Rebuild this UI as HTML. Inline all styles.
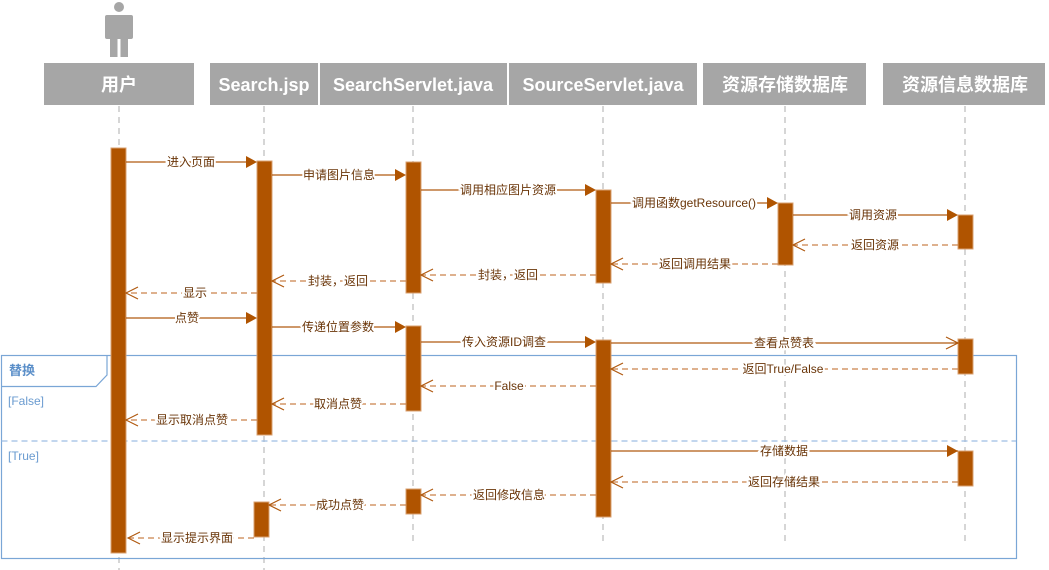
<!DOCTYPE html>
<html><head><meta charset="utf-8"><style>
body{margin:0;background:#fff}
svg{display:block}
text{font-family:"Liberation Sans","Noto Sans CJK SC",sans-serif}
.lb{font-size:12px;fill:#6a3508;text-anchor:middle;paint-order:stroke;stroke:#fff;stroke-width:4px}
.hd{font-size:18px;font-weight:bold;fill:#fff;text-anchor:middle}
.s{stroke:#b05a10;stroke-width:1.2;fill:none}
.d{stroke:#c9824a;stroke-width:1.2;fill:none;stroke-dasharray:6 4}
.ll{stroke:#bbb;stroke-width:1.2;stroke-dasharray:6 5}
.act{fill:#b05400;stroke:#d9a070;stroke-width:1}
.fa{fill:#b05400}
</style></head><body>
<svg width="1049" height="570" xmlns="http://www.w3.org/2000/svg">
<circle cx="119" cy="7" r="5" fill="#a6a6a6"/>
<rect x="105" y="15" width="28" height="24" rx="2" fill="#a6a6a6"/>
<rect x="110" y="30" width="7.5" height="27" fill="#a6a6a6"/>
<rect x="120.5" y="30" width="7.5" height="27" fill="#a6a6a6"/>
<rect x="44" y="63" width="150" height="42" fill="#a6a6a6"/>
<rect x="210" y="63" width="108" height="42" fill="#a6a6a6"/>
<rect x="320" y="63" width="187" height="42" fill="#a6a6a6"/>
<rect x="509" y="63" width="188" height="42" fill="#a6a6a6"/>
<rect x="703" y="63" width="163" height="42" fill="#a6a6a6"/>
<rect x="883" y="63" width="162" height="42" fill="#a6a6a6"/>
<text class="hd" x="119" y="91">用户</text>
<text class="hd" x="264" y="91">Search.jsp</text>
<text class="hd" x="413" y="91">SearchServlet.java</text>
<text class="hd" x="603" y="91">SourceServlet.java</text>
<text class="hd" x="785" y="91">资源存储数据库</text>
<text class="hd" x="965" y="91">资源信息数据库</text>
<line class="ll" x1="119" y1="106" x2="119" y2="570"/>
<line class="ll" x1="264" y1="106" x2="264" y2="570"/>
<line class="ll" x1="413" y1="106" x2="413" y2="545"/>
<line class="ll" x1="603" y1="106" x2="603" y2="545"/>
<line class="ll" x1="785" y1="106" x2="785" y2="545"/>
<line class="ll" x1="965" y1="106" x2="965" y2="545"/>
<rect x="1.5" y="355.5" width="1015" height="203" fill="none" stroke="#7aa6d6" stroke-width="1.2"/>
<path d="M1.5 386.5 H96 L107 375 V355.5" fill="none" stroke="#7aa6d6" stroke-width="1.2"/>
<text x="9" y="375" font-size="13" font-weight="bold" fill="#5b8fc9">替换</text>
<text x="8" y="405" font-size="12" fill="#6a9bd0">[False]</text>
<line x1="1.5" y1="441" x2="1016" y2="441" stroke="#9dbde3" stroke-width="1.2" stroke-dasharray="6 4"/>
<text x="8" y="460" font-size="12" fill="#6a9bd0">[True]</text>
<rect class="act" x="111" y="148" width="15" height="405"/>
<rect class="act" x="257" y="161" width="15" height="274"/>
<rect class="act" x="254" y="502" width="15" height="35"/>
<rect class="act" x="406" y="162" width="15" height="131"/>
<rect class="act" x="406" y="326" width="15" height="85"/>
<rect class="act" x="406" y="489" width="15" height="25"/>
<rect class="act" x="596" y="190" width="15" height="93"/>
<rect class="act" x="596" y="340" width="15" height="177"/>
<rect class="act" x="778" y="203" width="15" height="62"/>
<rect class="act" x="958" y="215" width="15" height="34"/>
<rect class="act" x="958" y="339" width="15" height="35"/>
<rect class="act" x="958" y="451" width="15" height="35"/>
<line class="s" x1="126" y1="162" x2="246" y2="162"/><path class="fa" d="M246 156 L257 162 L246 168Z"/><text class="lb" x="191" y="166">进入页面</text>
<line class="s" x1="272" y1="175" x2="395" y2="175"/><path class="fa" d="M395 169 L406 175 L395 181Z"/><text class="lb" x="339" y="179">申请图片信息</text>
<line class="s" x1="421" y1="190" x2="585" y2="190"/><path class="fa" d="M585 184 L596 190 L585 196Z"/><text class="lb" x="508" y="194">调用相应图片资源</text>
<line class="s" x1="611" y1="203" x2="767" y2="203"/><path class="fa" d="M767 197 L778 203 L767 209Z"/><text class="lb" x="694" y="207">调用函数getResource()</text>
<line class="s" x1="793" y1="215" x2="947" y2="215"/><path class="fa" d="M947 209 L958 215 L947 221Z"/><text class="lb" x="873" y="219">调用资源</text>
<line class="s" x1="126" y1="318" x2="246" y2="318"/><path class="fa" d="M246 312 L257 318 L246 324Z"/><text class="lb" x="187" y="322">点赞</text>
<line class="s" x1="272" y1="327" x2="395" y2="327"/><path class="fa" d="M395 321 L406 327 L395 333Z"/><text class="lb" x="338" y="331">传递位置参数</text>
<line class="s" x1="421" y1="342" x2="585" y2="342"/><path class="fa" d="M585 336 L596 342 L585 348Z"/><text class="lb" x="504" y="346">传入资源ID调查</text>
<line class="s" x1="611" y1="343" x2="958" y2="343"/><path class="s" d="M946 337 L958 343 L946 349"/><text class="lb" x="784" y="347">查看点赞表</text>
<line class="s" x1="611" y1="451" x2="958" y2="451"/><path class="fa" d="M947 445 L958 451 L947 457Z"/><text class="lb" x="784" y="455">存储数据</text>
<line class="d" x1="958" y1="245" x2="793" y2="245"/><path class="s" d="M805 239 L793 245 L805 251"/><text class="lb" x="875" y="249">返回资源</text>
<line class="d" x1="778" y1="264" x2="611" y2="264"/><path class="s" d="M623 258 L611 264 L623 270"/><text class="lb" x="695" y="268">返回调用结果</text>
<line class="d" x1="596" y1="275" x2="421" y2="275"/><path class="s" d="M433 269 L421 275 L433 281"/><text class="lb" x="508" y="279">封装，返回</text>
<line class="d" x1="406" y1="281" x2="272" y2="281"/><path class="s" d="M284 275 L272 281 L284 287"/><text class="lb" x="338" y="285">封装，返回</text>
<line class="d" x1="257" y1="293" x2="126" y2="293"/><path class="s" d="M138 287 L126 293 L138 299"/><text class="lb" x="195" y="297">显示</text>
<line class="d" x1="958" y1="369" x2="611" y2="369"/><path class="s" d="M623 363 L611 369 L623 375"/><text class="lb" x="783" y="373">返回True/False</text>
<line class="d" x1="596" y1="386" x2="421" y2="386"/><path class="s" d="M433 380 L421 386 L433 392"/><text class="lb" x="509" y="390">False</text>
<line class="d" x1="406" y1="404" x2="272" y2="404"/><path class="s" d="M284 398 L272 404 L284 410"/><text class="lb" x="338" y="408">取消点赞</text>
<line class="d" x1="257" y1="420" x2="126" y2="420"/><path class="s" d="M138 414 L126 420 L138 426"/><text class="lb" x="192" y="424">显示取消点赞</text>
<line class="d" x1="958" y1="482" x2="611" y2="482"/><path class="s" d="M623 476 L611 482 L623 488"/><text class="lb" x="784" y="486">返回存储结果</text>
<line class="d" x1="596" y1="495" x2="421" y2="495"/><path class="s" d="M433 489 L421 495 L433 501"/><text class="lb" x="509" y="499">返回修改信息</text>
<line class="d" x1="406" y1="505" x2="269" y2="505"/><path class="s" d="M281 499 L269 505 L281 511"/><text class="lb" x="340" y="509">成功点赞</text>
<line class="d" x1="254" y1="538" x2="128" y2="538"/><path class="s" d="M140 532 L128 538 L140 544"/><text class="lb" x="197" y="542">显示提示界面</text>
</svg>
</body></html>
